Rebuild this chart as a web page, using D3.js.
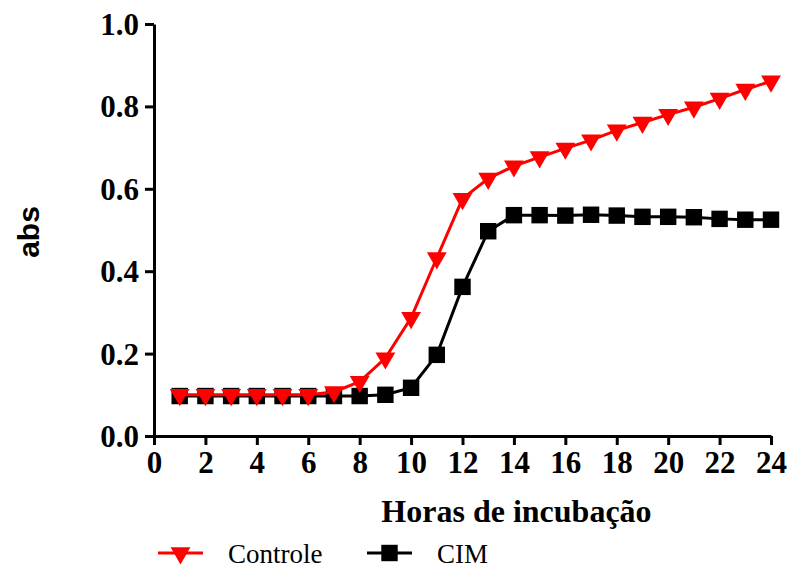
<!DOCTYPE html>
<html>
<head>
<meta charset="utf-8">
<script src="https://cdn.jsdelivr.net/npm/d3@7"></script>
<style>
  body { margin: 0; background: #fff; }
</style>
</head>
<body>
<svg id="chart" width="790" height="570"></svg>
<script>
const hours = d3.range(1, 25);
const controle = [0.10, 0.10, 0.10, 0.10, 0.10, 0.10, 0.107, 0.132, 0.189, 0.287, 0.432, 0.576,
                  0.625, 0.655, 0.677, 0.698, 0.718, 0.742, 0.761, 0.78, 0.798, 0.819, 0.841, 0.861];
const cim = [0.097, 0.097, 0.097, 0.097, 0.097, 0.097, 0.097, 0.097, 0.10, 0.117, 0.197, 0.362,
             0.497, 0.536, 0.536, 0.535, 0.537, 0.535, 0.532, 0.532, 0.531, 0.527, 0.525, 0.525];
const xTicks = d3.range(0, 25, 2);
const yTicks = [0, 0.2, 0.4, 0.6, 0.8, 1.0];

const serif = "Liberation Serif";
const sans = "Liberation Sans";

const margin = { top: 24, left: 154 };
const width = 617, height = 412;

const svg = d3.select("#chart");
const g = svg.append("g").attr("transform", `translate(${margin.left}, ${margin.top})`);

const x = d3.scaleLinear().domain([0, 24]).range([0, width]);
const y = d3.scaleLinear().domain([0, 1]).range([height, 0]);

const xAxis = g.append("g")
    .attr("transform", `translate(0, ${height})`)
    .call(d3.axisBottom(x).tickValues(xTicks).tickSize(9).tickPadding(6).tickSizeOuter(0));
const yAxis = g.append("g")
    .call(d3.axisLeft(y).tickValues(yTicks).tickFormat(d3.format(".1f")).tickSize(9).tickPadding(6).tickSizeOuter(0));

[xAxis, yAxis].forEach(a => {
    a.attr("font-family", serif).attr("font-size", 31).attr("font-weight", "bold");
    a.select(".domain").attr("stroke", "#000").attr("stroke-width", 3);
    a.selectAll(".tick line").attr("stroke", "#000").attr("stroke-width", 3);
    a.selectAll(".tick text").attr("fill", "#000");
});
yAxis.selectAll(".tick text").attr("dy", "0.34em");

g.append("text")
    .attr("x", x(14.1))
    .attr("y", height + 86)
    .attr("text-anchor", "middle")
    .attr("font-family", serif)
    .attr("font-weight", "bold")
    .attr("font-size", 32)
    .text("Horas de incubação");

svg.append("text")
    .attr("transform", "translate(39, 232) rotate(-90)")
    .attr("text-anchor", "middle")
    .attr("font-family", sans)
    .attr("font-weight", "bold")
    .attr("font-size", 30)
    .text("abs");

const line = d3.line().x((d, i) => x(hours[i])).y(d => y(d));

const series = [
    { name: "Controle", values: controle, color: "#ff0000", symbol: d3.symbolTriangle, size: 170, rotate: 180 },
    { name: "CIM", values: cim, color: "#000000", symbol: d3.symbolSquare, size: 270, rotate: 0 }
];

// draw CIM first so Controle sits on top
[series[1], series[0]].forEach(s => {
    g.append("path")
        .datum(s.values)
        .attr("fill", "none")
        .attr("stroke", s.color)
        .attr("stroke-width", 3)
        .attr("d", line);
    g.selectAll(null)
        .data(s.values)
        .enter().append("path")
        .attr("d", d3.symbol().type(s.symbol).size(s.size))
        .attr("fill", s.color)
        .attr("transform", (d, i) => `translate(${x(hours[i])}, ${y(d)}) rotate(${s.rotate})`);
});

// legend
const legendX = [158, 367];
series.forEach((s, i) => {
    const lg = svg.append("g").attr("transform", `translate(${legendX[i]}, 553)`);
    lg.append("line").attr("x1", 0).attr("x2", 45).attr("y1", 0).attr("y2", 0)
        .attr("stroke", s.color).attr("stroke-width", 3);
    lg.append("path")
        .attr("d", d3.symbol().type(s.symbol).size(s.size))
        .attr("fill", s.color)
        .attr("transform", `translate(22.5, 0) rotate(${s.rotate})`);
    lg.append("text")
        .attr("x", 70)
        .attr("y", 10)
        .attr("font-family", serif)
        .attr("font-size", 27)
        .text(s.name);
});
</script>
</body>
</html>
